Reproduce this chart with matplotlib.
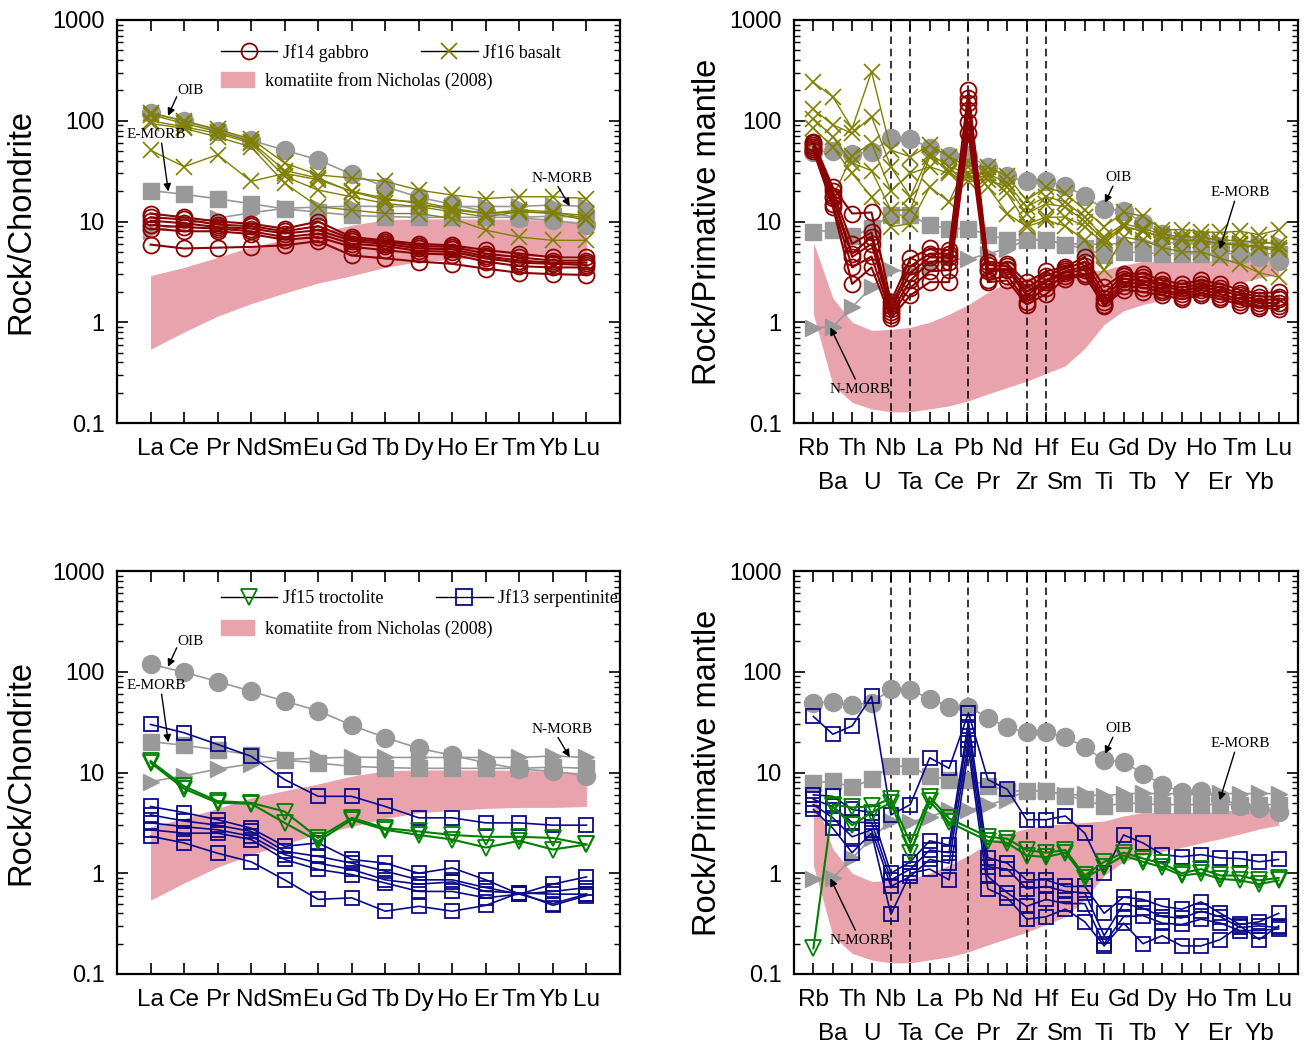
import numpy as np
import matplotlib
matplotlib.use('Agg')
import matplotlib.pyplot as plt
from matplotlib.lines import Line2D
from matplotlib.patches import Patch
from matplotlib.ticker import LogLocator, FuncFormatter, NullFormatter

plt.rcParams['font.family'] = ['Liberation Sans', 'DejaVu Sans']

########################################################
# Donnees
########################################################
nan = np.nan

ree = ['La', 'Ce', 'Pr', 'Nd', 'Sm', 'Eu', 'Gd', 'Tb', 'Dy', 'Ho', 'Er', 'Tm', 'Yb', 'Lu']
spider = ['Rb', 'Ba', 'Th', 'U', 'Nb', 'Ta', 'La', 'Ce', 'Pb', 'Pr', 'Nd', 'Zr', 'Hf',
          'Sm', 'Eu', 'Ti', 'Gd', 'Tb', 'Dy', 'Y', 'Ho', 'Er', 'Tm', 'Yb', 'Lu']
dashed_el = ['Nb', 'Ta', 'Pb', 'Zr', 'Hf']

# references normalisees chondrite
oib_ree = [119, 99, 80, 64, 51, 41, 29.4, 22.2, 17.4, 14.8, 12.5, 10.8, 10.3, 9.3]
emorb_ree = [20.3, 18.6, 16.8, 15.0, 13.3, 12.4, 11.5, 11.2, 11.0, 11.0, 11.0, 11.0, 11.3, 11.0]
nmorb_ree = [8.1, 9.3, 10.8, 12.2, 13.5, 13.9, 14.2, 14.1, 14.1, 14.1, 14.1, 14.1, 14.6, 14.1]
kom_ree_hi = [2.9, 3.5, 4.4, 5.6, 6.6, 7.7, 9.2, 10.4, 10.6, 10.6, 10.6, 10.5, 10.3, 10.0]
kom_ree_lo = [0.54, 0.80, 1.15, 1.53, 1.95, 2.45, 2.9, 3.5, 4.0, 4.2, 4.4, 4.5, 4.5, 4.6]

# references normalisees manteau primitif
oib_pm = [49, 50, 47, 49, 67, 66, 54, 45, 45, 35, 28, 25, 25, 22.5, 17.9, 13.2,
          12.8, 9.7, 7.6, 6.4, 6.5, 5.5, 4.7, 4.4, 4.05]
emorb_pm = [7.9, 8.2, 7.1, 8.6, 11.6, 11.5, 9.2, 8.5, 8.5, 7.4, 6.6, 6.5, 6.6, 5.9,
            5.4, 4.6, 5.0, 4.9, 4.8, 4.8, 4.8, 4.8, 4.8, 4.8, 4.8]
nmorb_pm = [0.88, 0.90, 1.41, 2.24, 3.27, 3.22, 3.64, 4.23, 4.23, 4.78, 5.39, 6.6, 6.63,
            5.92, 6.07, 5.85, 6.17, 6.2, 6.17, 6.15, 6.16, 6.19, 6.16, 6.19, 6.15]
kom_pm_hi = [6.2, 1.75, 1.0, 0.83, 0.85, 0.89, 1.0, 1.2, 1.5, 1.98, 2.47, 2.77, 3.0,
             3.1, 3.2, 3.3, 3.7, 4.0, 4.0, 4.0, 4.0, 4.1, 4.3, 4.5, 4.6]
kom_pm_lo = [1.2, 0.24, 0.16, 0.138, 0.129, 0.129, 0.138, 0.148, 0.166, 0.194, 0.225,
             0.26, 0.31, 0.37, 0.55, 0.95, 1.3, 1.5, 1.65, 1.8, 2.0, 2.2, 2.45, 2.75, 3.0]

# Jf14 gabbro
gabbro_ree = [
    [12.0, 11.0, 10.0, 9.5, 8.5, 10.0, 7.0, 6.5, 6.0, 5.8, 5.2, 4.8, 4.4, 4.4],
    [11.0, 10.5, 9.3, 9.0, 8.0, 9.0, 6.7, 6.3, 5.7, 5.6, 4.8, 4.4, 4.1, 4.1],
    [10.2, 9.6, 8.8, 8.5, 7.6, 8.2, 6.4, 6.0, 5.4, 5.3, 4.5, 4.1, 3.9, 3.9],
    [9.2, 8.8, 8.5, 8.0, 7.0, 7.6, 6.0, 5.7, 5.1, 5.0, 4.3, 3.9, 3.8, 3.7],
    [8.5, 8.0, 8.0, 7.5, 6.6, 7.0, 5.6, 5.2, 4.8, 4.7, 4.0, 3.6, 3.5, 3.5],
    [5.9, 5.4, 5.5, 5.6, 5.8, 6.4, 4.6, 4.3, 4.0, 3.8, 3.4, 3.1, 3.0, 2.95],
]
gabbro_pm = [
    [62, 22, 12, 12.3, 1.6, 4.3, 5.4, 5.2, 200, 4.0, 3.8, 2.5, 3.2, 3.55, 4.45, 2.24,
     3.04, 3.04, 2.6, 2.4, 2.6, 2.4, 2.1, 1.93, 2.0],
    [60, 20, 6.0, 7.8, 1.45, 3.6, 4.8, 4.8, 170, 3.7, 3.6, 2.2, 2.9, 3.4, 4.0, 1.95,
     2.9, 2.8, 2.4, 2.2, 2.4, 2.2, 1.95, 1.8, 1.8],
    [58, 18, 4.8, 7.0, 1.35, 3.1, 4.4, 4.4, 150, 3.4, 3.4, 2.0, 2.6, 3.2, 3.6, 1.75,
     2.7, 2.6, 2.3, 2.05, 2.25, 2.05, 1.85, 1.65, 1.7],
    [55, 17, 4.45, 6.0, 1.25, 2.6, 4.0, 4.0, 128, 3.2, 3.3, 1.85, 2.5, 3.1, 3.3, 1.6,
     2.5, 2.4, 2.1, 1.9, 2.1, 1.9, 1.7, 1.55, 1.55],
    [53, 15, 3.5, 4.5, 1.18, 2.2, 3.2, 3.3, 98, 2.6, 2.9, 1.6, 2.2, 2.9, 3.0, 1.5,
     2.3, 2.2, 2.0, 1.8, 1.95, 1.8, 1.6, 1.45, 1.45],
    [50, 14, 2.4, 3.5, 1.1, 1.85, 2.5, 2.5, 75, 2.5, 2.6, 1.5, 1.9, 2.7, 2.9, 1.45,
     2.1, 2.0, 1.85, 1.7, 1.85, 1.7, 1.5, 1.4, 1.35],
]

# Jf16 basalt
basalt_ree = [
    [120, 100, 82, 66, 38, 29, 27, 25, 20.5, 18.3, 16.9, 17.6, 17.6, 16.9],
    [115, 94, 78, 62, 32, 27, 19.7, 16.3, 15.7, 13.5, 12.0, 13.0, 12.5, 10.7],
    [100, 87, 75, 60, 28, 20.5, 17.6, 15.1, 14.0, 12.5, 11.1, 12.5, 12.0, 10.3],
    [94, 84, 69, 55, 24, 14, 13, 12, 12, 10.7, 8.2, 7.0, 6.5, 6.5],
    [51, 35, 46, 25, 30, 26, 20, 17, 15, 13, 12, 12.5, 12.2, 11.5],
]
basalt_pm = [
    [240, 173, 84, 307, 51, 44, 57, 44, 35, 35, 28, 16.3, 22, 19, 13, 8.9,
     12.3, 11.3, 8.3, 8.3, 7.9, 7.8, 8.0, 7.4, 8.3],
    [130, 91, 75, 110, 35, 17.6, 47, 35, 30, 30, 24, 14, 17.6, 15.7, 11, 7.0,
     9.5, 8.5, 7.5, 7.0, 7.0, 6.5, 6.5, 6.2, 6.0],
    [105, 69, 38, 32, 13, 13, 44, 32, 28, 28, 19, 9.5, 11, 11.1, 8.9, 6.0,
     8.9, 8.0, 7.0, 6.5, 6.5, 6.0, 5.8, 5.5, 5.2],
    [85, 55, 30, 17.6, 8.9, 9.5, 22, 15.7, 40, 22, 12, 8.9, 10.3, 9.0, 6.5, 3.3,
     7.0, 6.5, 5.5, 5.0, 5.0, 4.3, 3.8, 3.1, 2.8],
    [60, 17.6, 45, 60, 20, 30, 35, 30, 25, 26, 22, 12, 15, 14, 10, 6.5,
     9.0, 8.0, 7.0, 6.5, 6.5, 6.0, 6.0, 5.6, 5.5],
]

# Jf15 troctolite
troct_ree = [
    [13.0, 7.3, 5.2, 5.0, 4.1, 2.24, 3.55, 2.8, 2.6, 2.4, 2.3, 2.3, 2.24, 1.93],
    [12.5, 6.9, 5.0, 4.9, 3.16, 2.08, 3.4, 2.7, 2.4, 2.16, 1.8, 2.1, 1.72, 1.93],
]
troct_pm = [
    [0.18, 4.8, 4.5, 4.6, 5.5, 2.0, 5.7, 3.5, nan, 2.3, 2.2, 1.7, 1.6, 1.7, 0.95, 1.3,
     1.6, 1.4, 1.25, 1.0, 1.1, 0.95, 0.95, 0.85, 0.9],
    [nan, 4.6, 3.0, 4.0, 5.0, 1.6, 5.2, 3.2, nan, 2.1, 2.0, 1.5, 1.45, 1.6, 0.9, 1.15,
     1.5, 1.3, 1.15, 0.95, 1.0, 0.88, 0.85, 0.78, 0.85],
]

# Jf13 serpentinite
serp_ree = [
    [30, 24.8, 19, 14.5, 8.5, 5.8, 5.8, 4.6, 3.55, 3.55, 3.16, 3.16, 3.0, 3.0],
    [4.6, 4.0, 3.4, 2.8, 1.85, 2.0, 1.37, 1.26, 1.0, 1.13, 0.86, 0.62, 0.78, 0.92],
    [3.8, 3.3, 3.0, 2.6, 1.65, 1.47, 1.26, 1.05, 0.86, 0.86, 0.72, 0.62, 0.66, 0.72],
    [3.16, 2.9, 2.7, 2.33, 1.53, 1.26, 1.09, 0.86, 0.78, 0.82, 0.66, 0.64, 0.62, 0.62],
    [2.7, 2.5, 2.5, 2.16, 1.37, 1.09, 0.97, 0.80, 0.66, 0.66, 0.57, 0.62, 0.5, 0.62],
    [2.33, 2.0, 1.58, 1.3, 0.86, 0.55, 0.57, 0.42, 0.47, 0.42, 0.48, 0.64, 0.48, 0.6],
]
serp_pm = [
    [36, 24, 29, 57, 3.8, 4.8, 14, 11, 39, 8.5, 6.8, 3.4, 3.4, 3.7, 2.5, 1.0,
     2.4, 2.0, 1.53, 1.46, 1.53, 1.42, 1.4, 1.3, 1.37],
    [6.0, 5.8, 4.3, 4.0, 1.0, 1.3, 2.1, 1.9, 32, 1.43, 1.26, 0.86, 0.86, 0.74, 0.74, 0.4,
     0.58, 0.55, 0.47, 0.44, 0.52, 0.4, 0.31, 0.33, 0.4],
    [5.4, 4.6, 3.2, 3.2, 0.86, 1.1, 1.7, 1.6, 27, 1.16, 1.1, 0.7, 0.74, 0.66, 0.64, 0.24,
     0.5, 0.45, 0.37, 0.36, 0.42, 0.37, 0.29, 0.3, 0.29],
    [4.8, 3.55, 2.3, 2.7, 0.74, 0.93, 1.37, 1.26, 21, 0.93, 0.64, 0.47, 0.55, 0.5, 0.5, 0.2,
     0.37, 0.38, 0.32, 0.31, 0.35, 0.32, 0.27, 0.27, 0.28],
    [4.3, 2.8, 1.6, 2.5, 0.39, 1.0, 1.1, 0.86, 17, 0.7, 0.57, 0.35, 0.37, 0.44, 0.33, 0.19,
     0.32, 0.2, 0.24, 0.19, 0.19, 0.22, 0.3, 0.22, 0.3],
]

########################################################
# Styles
########################################################
GRIS = '#999999'
ROSE = '#e9a3ad'
ROUGE = '#8b0000'
OLIVE = '#808000'
VERT = '#008000'
BLEU = '#0a0a8a'
SERIF = 'Liberation Serif'


def trace(ax, y, **kw):
    """Trace une serie en sautant les valeurs manquantes"""
    y = np.array(y, dtype=float)
    x = np.arange(len(y))
    ok = ~np.isnan(y)
    ax.plot(x[ok], y[ok], **kw)


def cadre(ax, elements, ylabel, spider_plot=False):
    """Axes log, ticks vers l'interieur sur les 4 cotes"""
    n = len(elements)
    ax.set_yscale('log')
    ax.set_ylim(0.1, 1000)
    ax.set_xlim(-1, n)
    ax.yaxis.set_major_locator(LogLocator(base=10, numticks=10))
    ax.yaxis.set_minor_locator(LogLocator(base=10, subs=np.arange(2, 10), numticks=10))
    ax.yaxis.set_major_formatter(FuncFormatter(lambda v, p: '%g' % v))
    ax.yaxis.set_minor_formatter(NullFormatter())
    if spider_plot:
        pair = list(range(0, n, 2))
        impair = list(range(1, n, 2))
        ax.set_xticks(pair)
        ax.set_xticklabels([elements[i] for i in pair])
        ax.set_xticks(impair, minor=True)
        ax.set_xticklabels([elements[i] for i in impair], minor=True)
        ax.tick_params(axis='x', which='minor', direction='in', top=True, bottom=True,
                       length=8, width=1.2, pad=35, labelsize=17.5)
    else:
        ax.set_xticks(range(n))
        ax.set_xticklabels(elements)
    ax.tick_params(axis='x', which='major', direction='in', top=True, bottom=True,
                   length=8, width=1.2, pad=11, labelsize=17.5)
    ax.tick_params(axis='y', which='major', direction='in', left=True, right=True,
                   length=8, width=1.2, pad=9, labelsize=17)
    ax.tick_params(axis='y', which='minor', direction='in', left=True, right=True,
                   length=4.5, width=1.0)
    for s in ax.spines.values():
        s.set_linewidth(1.6)
    ax.set_ylabel(ylabel, fontsize=23.5)


def references(ax, oib, emorb, nmorb):
    """Motifs de reference OIB, E-MORB, N-MORB en gris"""
    trace(ax, nmorb, color=GRIS, lw=1.2, marker='>', ms=12, mfc=GRIS, mec=GRIS, zorder=2)
    trace(ax, emorb, color=GRIS, lw=1.2, marker='s', ms=11.5, mfc=GRIS, mec=GRIS, zorder=2)
    trace(ax, oib, color=GRIS, lw=1.2, marker='o', ms=13, mfc=GRIS, mec=GRIS, zorder=2)


def fleche(ax, texte, pos_texte, tete, queue):
    ax.text(pos_texte[0], pos_texte[1], texte, family=SERIF, fontsize=11,
            ha='center', va='center', zorder=6)
    ax.annotate('', xy=tete, xytext=queue,
                arrowprops=dict(arrowstyle='-|>', color='k', lw=1.0,
                                mutation_scale=11, shrinkA=0, shrinkB=0), zorder=6)


def legende(ax, h1, l1, h2, l2, y1, y2):
    prop = dict(family=SERIF, size=13)
    leg = ax.legend([h1, h2], [l1, l2], loc='center left', bbox_to_anchor=(0.206, y1),
                    ncol=2, frameon=False, prop=prop, handlelength=3.15,
                    handletextpad=0.3, columnspacing=2.9, borderpad=0, borderaxespad=0)
    ax.add_artist(leg)
    ax.legend([Patch(facecolor=ROSE, edgecolor=ROSE)], ['komatiite from Nicholas (2008)'],
              loc='center left', bbox_to_anchor=(0.206, y2), frameon=False, prop=prop,
              handlelength=1.85, handleheight=0.95, handletextpad=0.6,
              borderpad=0, borderaxespad=0)


def annot_ree(ax):
    fleche(ax, 'OIB', (1.18, 198), (0.52, 112), (0.78, 173))
    fleche(ax, 'E-MORB', (0.18, 72.7), (0.53, 19.9), (0.33, 60))
    fleche(ax, 'N-MORB', (12.28, 26.5), (12.5, 14.2), (12.15, 22.3))


def annot_spider(ax):
    fleche(ax, 'OIB', (15.76, 27.1), (15.04, 15.3), (15.45, 22.4))
    fleche(ax, 'E-MORB', (22.04, 19.4), (20.96, 5.3), (21.73, 15.9))
    fleche(ax, 'N-MORB', (2.42, 0.214), (0.875, 0.89), (2.16, 0.273))


def tirets(ax):
    for el in dashed_el:
        ax.axvline(spider.index(el), color='k', lw=1.1, ls=(0, (5, 3)), zorder=1.5)


########################################################
# Figure
########################################################
fig = plt.figure(figsize=(13.15, 10.45), dpi=100)
W, H = 1315.0, 1045.0
ax_tl = fig.add_axes([117 / W, 1 - 423 / H, 503 / W, 403 / H])
ax_tr = fig.add_axes([794 / W, 1 - 423 / H, 504 / W, 403 / H])
ax_bl = fig.add_axes([117 / W, 1 - 974 / H, 503 / W, 403 / H])
ax_br = fig.add_axes([794 / W, 1 - 974 / H, 504 / W, 403 / H])

x_ree = np.arange(len(ree))
x_sp = np.arange(len(spider))

# --- haut gauche : gabbro et basalte, chondrite
ax = ax_tl
ax.fill_between(x_ree, kom_ree_lo, kom_ree_hi, color=ROSE, lw=0, zorder=1)
references(ax, oib_ree, emorb_ree, nmorb_ree)
for s in basalt_ree:
    trace(ax, s, color=OLIVE, lw=1.0, marker='x', ms=11, mew=1.2, zorder=3)
for s in gabbro_ree:
    trace(ax, s, color=ROUGE, lw=1.5, marker='o', ms=11.5, mfc='none', mec=ROUGE, mew=1.3, zorder=4)
cadre(ax, ree, 'Rock/Chondrite')
annot_ree(ax)
h_gab = Line2D([], [], color='k', lw=1, marker='o', ms=11.5, mfc='none', mec=ROUGE, mew=1.3)
h_bas = Line2D([], [], color='k', lw=1, marker='x', ms=12, mec=OLIVE, mew=1.3)
legende(ax, h_gab, 'Jf14 gabbro', h_bas, 'Jf16 basalt', 0.919, 0.849)

# --- haut droite : gabbro et basalte, manteau primitif
ax = ax_tr
ax.fill_between(x_sp, kom_pm_lo, kom_pm_hi, color=ROSE, lw=0, zorder=1)
tirets(ax)
references(ax, oib_pm, emorb_pm, nmorb_pm)
for s in basalt_pm:
    trace(ax, s, color=OLIVE, lw=1.0, marker='x', ms=11, mew=1.2, zorder=3)
for s in gabbro_pm:
    trace(ax, s, color=ROUGE, lw=1.5, marker='o', ms=11.5, mfc='none', mec=ROUGE, mew=1.3, zorder=4)
cadre(ax, spider, 'Rock/Primative mantle', spider_plot=True)
annot_spider(ax)

# --- bas gauche : troctolite et serpentinite, chondrite
ax = ax_bl
ax.fill_between(x_ree, kom_ree_lo, kom_ree_hi, color=ROSE, lw=0, zorder=1)
references(ax, oib_ree, emorb_ree, nmorb_ree)
for s in serp_ree:
    trace(ax, s, color=BLEU, lw=1.2, marker='s', ms=10.5, mfc='none', mec=BLEU, mew=1.3, zorder=3)
for s in troct_ree:
    trace(ax, s, color=VERT, lw=1.5, marker='v', ms=11.5, mfc='none', mec=VERT, mew=1.3, zorder=4)
cadre(ax, ree, 'Rock/Chondrite')
annot_ree(ax)
h_tro = Line2D([], [], color='k', lw=1, marker='v', ms=11.5, mfc='none', mec=VERT, mew=1.3)
h_ser = Line2D([], [], color='k', lw=1, marker='s', ms=11, mfc='none', mec=BLEU, mew=1.3)
legende(ax, h_tro, 'Jf15 troctolite', h_ser, 'Jf13 serpentinite', 0.933, 0.857)

# --- bas droite : troctolite et serpentinite, manteau primitif
ax = ax_br
ax.fill_between(x_sp, kom_pm_lo, kom_pm_hi, color=ROSE, lw=0, zorder=1)
tirets(ax)
references(ax, oib_pm, emorb_pm, nmorb_pm)
for s in serp_pm:
    trace(ax, s, color=BLEU, lw=1.2, marker='s', ms=10.5, mfc='none', mec=BLEU, mew=1.3, zorder=3)
for s in troct_pm:
    trace(ax, s, color=VERT, lw=1.5, marker='v', ms=11.5, mfc='none', mec=VERT, mew=1.3, zorder=4)
cadre(ax, spider, 'Rock/Primative mantle', spider_plot=True)
annot_spider(ax)

# position des titres d'axe y (bord droit du texte tourne)
ax_tl.yaxis.set_label_coords(-0.161, 0.5)
ax_bl.yaxis.set_label_coords(-0.161, 0.5)
ax_tr.yaxis.set_label_coords(-0.141, 0.5)
ax_br.yaxis.set_label_coords(-0.141, 0.5)

fig.savefig('out.png', dpi=100)
